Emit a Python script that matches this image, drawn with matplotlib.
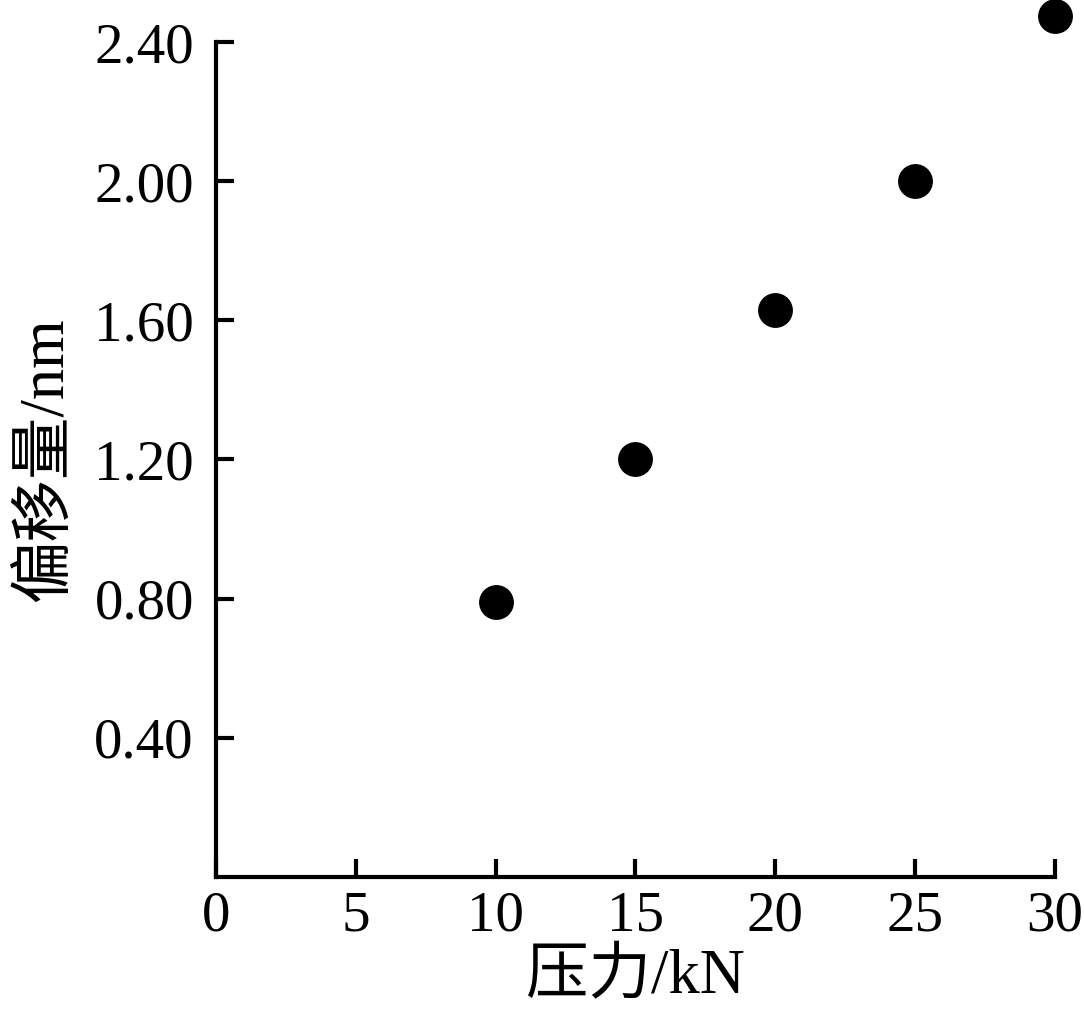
import matplotlib.pyplot as plt

# pressure (kN) vs offset (nm)
pressure = [10, 15, 20, 25, 30]
offset = [0.79, 1.20, 1.63, 2.00, 2.475]
xticks = [0, 5, 10, 15, 20, 25, 30]
yticks = [0.40, 0.80, 1.20, 1.60, 2.00, 2.40]

plt.rcParams['font.family'] = ['Liberation Serif', 'Noto Sans CJK SC']

fig = plt.figure(figsize=(10.84, 10.17), dpi=100)
ax = fig.add_axes([0.1993, 0.1377, 0.7739, 0.821])

ax.scatter(pressure, offset, s=580, color='black', zorder=3, clip_on=False)

ax.set_xlim(0, 30)
ax.set_ylim(0, 2.40)
ax.set_xticks(xticks)
ax.set_yticks(yticks)
ax.set_yticklabels([f"{v:.2f}" for v in yticks])

for side in ['top', 'right']:
    ax.spines[side].set_visible(False)
for side in ['left', 'bottom']:
    ax.spines[side].set_linewidth(3)

ax.tick_params(axis='both', direction='in', length=13, width=3, labelsize=41)
ax.tick_params(axis='x', pad=10)
ax.tick_params(axis='y', pad=16)

ax.set_xlabel("压力/kN", fontsize=45, labelpad=5)
ax.set_ylabel("偏移量/nm", fontsize=45, labelpad=12)

fig.savefig("out.png", dpi=100)
